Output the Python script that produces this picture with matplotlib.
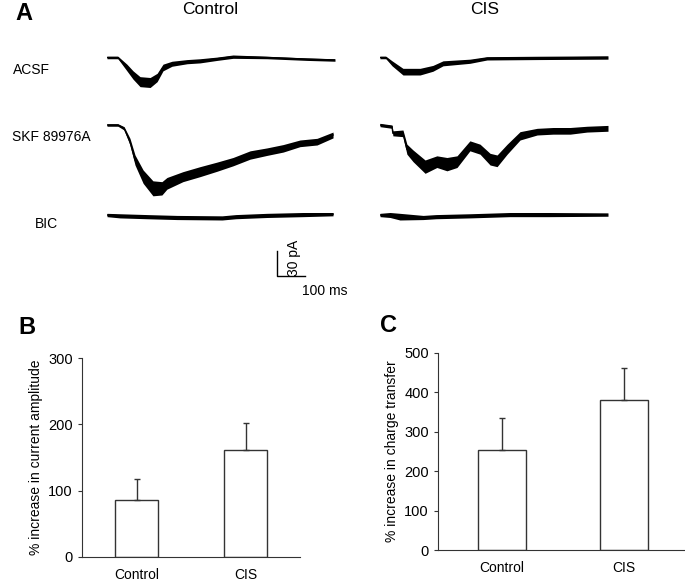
import numpy as np
import matplotlib
matplotlib.use('Agg')
import matplotlib.pyplot as plt

plt.rcParams['font.family'] = ['Liberation Sans', 'DejaVu Sans']

# --- traces (time in ms, current in pA, noise = half width of the noisy band) ---
ctrl_acsf_t = [0, 39, 71, 93, 118, 154, 179, 200, 232, 286, 332, 393, 450, 571, 714, 814]
ctrl_acsf_i = [0, 0, -12, -21, -29, -30, -24, -12, -7.5, -5, -4, -1.5, 1, 0, -2, -3]
ctrl_acsf_n = [1.5, 1.5, 4, 5, 6, 6, 5, 4, 3, 2.5, 2.5, 2, 2, 1.5, 1.5, 1.5]

ctrl_skf_t = [0, 39, 61, 82, 100, 129, 164, 196, 214, 271, 332, 393, 450, 511, 571, 629, 689, 750, 807]
ctrl_skf_i = [0, 0, -4, -20, -42, -62, -76, -76, -70, -62, -56, -50, -44, -36, -32, -28, -22, -20, -12]
ctrl_skf_n = [1.5, 1.5, 2, 4, 6, 8, 9, 8, 7, 6, 6, 5.5, 5, 5, 4.5, 4.5, 4, 4, 3.5]

ctrl_bic_t = [0, 46, 143, 250, 411, 460, 571, 700, 807]
ctrl_bic_i = [0, -1, -2, -3, -3.5, -2, -0.5, 0.5, 1]
ctrl_bic_n = [2, 2.5, 2.5, 2.5, 2.5, 2.5, 2.5, 2.5, 2]

cis_acsf_t = [0, 21, 43, 82, 143, 189, 225, 321, 382, 561, 814]
cis_acsf_i = [0, 0, -7, -17, -17, -13, -7, -4.5, -1, -0.5, 0]
cis_acsf_n = [1.5, 1.5, 3, 4, 4, 3.5, 3, 2.5, 2, 2, 2]

cis_skf_t = [0, 43, 46, 82, 96, 118, 161, 203, 239, 275, 321, 357, 393, 418, 454, 500, 561, 618, 679, 739, 814]
cis_skf_i = [0, -2, -10, -10, -29, -37, -50, -44, -47, -44, -25, -29, -41, -43, -29, -13, -8, -7, -7, -5, -4]
cis_skf_n = [2, 2, 3, 4, 6, 7, 8, 7, 8, 7, 6, 6, 7, 7, 6, 5, 4, 4, 4, 3.5, 3.5]

cis_bic_t = [0, 36, 71, 154, 200, 321, 464, 600, 814]
cis_bic_i = [0, 0, -2, -3, -2, -1, 0.5, 0.5, 0.5]
cis_bic_n = [2, 3, 4, 2.5, 2.5, 2.5, 2.5, 2.5, 2]

row_offsets = [0, -81, -189]   # vertical spacing between rows (pA)
row_labels = ['ACSF', 'SKF 89976A', 'BIC']
row_label_pos = [(13, 70), (12, 137), (35, 224)]

# --- bar data ---
groups = ['Control', 'CIS']
amp_mean = [86, 161]
amp_err = [32, 41]
charge_mean = [254, 381]
charge_err = [80, 81]

W, H = 685, 581
fig = plt.figure(figsize=(W / 100, H / 100), dpi=100)


def fx(px):
    return px / W


def fy(py):
    return 1 - py / H


def trace_axes(left_px):
    ax = fig.add_axes([fx(left_px), fy(300), 228 / W, 260 / H])
    ax.set_xlim(0, 814)
    ax.set_ylim(-291, 21)
    ax.axis('off')
    return ax


def draw_traces(ax, traces):
    for (t, i, n), off in zip(traces, row_offsets):
        t = np.array(t)
        i = np.array(i) + off
        n = np.array(n)
        ax.fill_between(t, i - n, i + n, color='black', lw=0)
        ax.plot(t, i, color='black', lw=1)


ax_ctrl = trace_axes(107)
draw_traces(ax_ctrl, [(ctrl_acsf_t, ctrl_acsf_i, ctrl_acsf_n),
                      (ctrl_skf_t, ctrl_skf_i, ctrl_skf_n),
                      (ctrl_bic_t, ctrl_bic_i, ctrl_bic_n)])
ax_cis = trace_axes(380)
draw_traces(ax_cis, [(cis_acsf_t, cis_acsf_i, cis_acsf_n),
                     (cis_skf_t, cis_skf_i, cis_skf_n),
                     (cis_bic_t, cis_bic_i, cis_bic_n)])

# scale bar: 100 ms x 30 pA
sb_t, sb_i = 607, -262
ax_ctrl.plot([sb_t, sb_t, sb_t + 100], [sb_i + 30, sb_i, sb_i], color='black', lw=1,
             clip_on=False)
ax_ctrl.text(sb_t + 60, sb_i + 21, '30 pA', rotation=90, ha='center', va='center', fontsize=10)
ax_ctrl.text(sb_t + 88, sb_i - 18, '100 ms', ha='left', va='center', fontsize=10)

fig.text(fx(210), fy(10), 'Control', ha='center', va='center', fontsize=12.5)
fig.text(fx(485), fy(10), 'CIS', ha='center', va='center', fontsize=12.5)
for lab, (px, py) in zip(row_labels, row_label_pos):
    fig.text(fx(px), fy(py), lab, ha='left', va='center', fontsize=10)

fig.text(fx(15), fy(14), 'A', fontsize=17, fontweight='bold', ha='left', va='center')
fig.text(fx(18), fy(328), 'B', fontsize=17, fontweight='bold', ha='left', va='center')
fig.text(fx(380), fy(325), 'C', fontsize=17, fontweight='bold', ha='left', va='center')


def bar_panel(rect, means, errs, ymax, step, ylabel, xlim):
    ax = fig.add_axes(rect)
    x = np.arange(len(groups))
    ax.bar(x, means, width=0.4, color='white', edgecolor='#333333', lw=1)
    ax.errorbar(x, means, yerr=[np.zeros(len(errs)), errs], fmt='none',
                ecolor='#333333', elinewidth=1, capsize=2)
    ax.set_xlim(*xlim)
    ax.set_ylim(0, ymax)
    ax.set_yticks(np.arange(0, ymax + 1, step))
    ax.set_xticks(x)
    ax.set_xticklabels(groups)
    ax.tick_params(axis='y', labelsize=10.5, length=3, color='#333333')
    ax.tick_params(axis='x', labelsize=10, length=0, pad=8)
    ax.set_ylabel(ylabel, fontsize=10)
    for s in ['top', 'right']:
        ax.spines[s].set_visible(False)
    for s in ['left', 'bottom']:
        ax.spines[s].set_color('#333333')
    return ax


bar_panel([fx(82), fy(557), 218 / W, 199 / H], amp_mean, amp_err, 300, 100,
          '% increase in current amplitude', (-0.5, 1.5))
bar_panel([fx(438), fy(550), 247 / W, 197 / H], charge_mean, charge_err, 500, 100,
          '% increase in charge transfer', (-0.525, 1.5))

fig.savefig('out.png', dpi=100)
